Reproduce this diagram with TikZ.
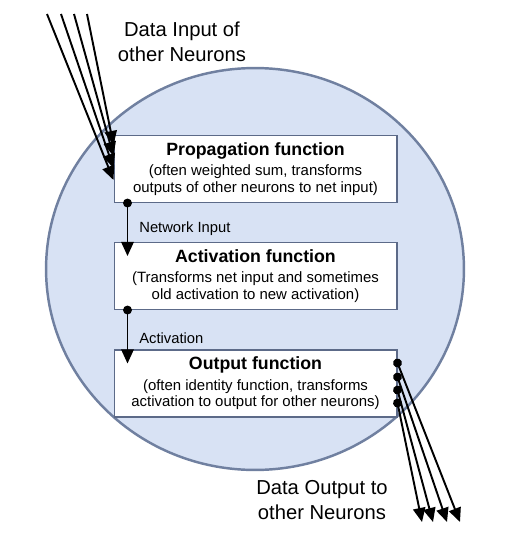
\documentclass[tikz,border=0pt]{standalone}
\usepackage{fontspec}
\setmainfont{Liberation Sans}
\usetikzlibrary{arrows.meta,calc,shapes.geometric}
\definecolor{cellfill}{RGB}{216,226,244}
\definecolor{cellline}{RGB}{112,128,160}
\definecolor{boxline}{RGB}{92,106,136}

\begin{document}
\begin{tikzpicture}[
	x=0.02cm, y=-0.02cm,
	cellbody/.style={ellipse, draw=cellline, fill=cellfill, line width=1.4pt, minimum width=8.36cm, minimum height=8.04cm, inner sep=0pt},
	func/.style={draw=boxline, fill=white, line width=0.6pt, minimum width=5.66cm, minimum height=1.34cm, inner sep=0pt, align=center, font=\fontsize{8.5}{9.5}\selectfont},
	lbl/.style={anchor=west, inner sep=0pt, font=\fontsize{8.4}{10}\selectfont},
	note/.style={align=center, inner sep=0pt, font=\fontsize{11.5}{14.2}\selectfont},
	link/.style={line width=1.1pt, shorten <=-2.5pt, {Circle[length=5pt]}-{Triangle[length=8pt,width=7pt]}},
	feed/.style={line width=1.1pt, -{Triangle[length=8pt,width=7pt]}}
	]
	\useasboundingbox (0,0) rectangle (505,548);

	% cell
	\node (cell) [cellbody] at (255,269) {};

	% the three functions
	\node (prop) [func] at (255.5,169) {{\bfseries\fontsize{10.1}{12}\selectfont Propagation function}\\[2pt](often weighted sum, transforms\\outputs of other neurons to net input)};
	\node (act) [func] at (255.5,276) {{\bfseries\fontsize{10.1}{12}\selectfont Activation function}\\[2pt](Transforms net input and sometimes\\old activation to new activation)};
	\node (outf) [func] at (255.5,383.5) {{\bfseries\fontsize{10.1}{12}\selectfont Output function}\\[2pt](often identity function, transforms\\activation to output for other neurons)};

	% inner links, heads reach into the next box
	\draw[link, shorten >=-8pt] ($(prop.south west)+(14,0)$) -- ($(act.north west)+(14,0)$);
	\draw[link, shorten >=-8pt] ($(act.south west)+(14,0)$) -- ($(outf.north west)+(14,0)$);
	\node (netin) [lbl] at (139,229) {Network Input};
	\node (actv) [lbl] at (139,338) {Activation};

	% inputs
	\foreach \i/\sx/\ty in {1/47/11, 2/61/-1, 3/74/-13, 4/87/-24} {
		\coordinate (in\i) at (\sx,14);
		\draw[feed] (in\i) -- ($(prop.west)+(0,\ty)$);
	}
	\node (datain) [note] at (182,42) {Data Input of\\other Neurons};

	% outputs
	\foreach \i/\sy/\ex in {1/-20.5/460, 2/-6.5/447, 3/6.5/433, 4/19.5/422} {
		\coordinate (out\i) at (\ex,522);
		\draw[link] ($(outf.east)+(0,\sy)$) -- (out\i);
	}
	\node (dataout) [note] at (322,500) {Data Output to\\other Neurons};
\end{tikzpicture}
\end{document}
